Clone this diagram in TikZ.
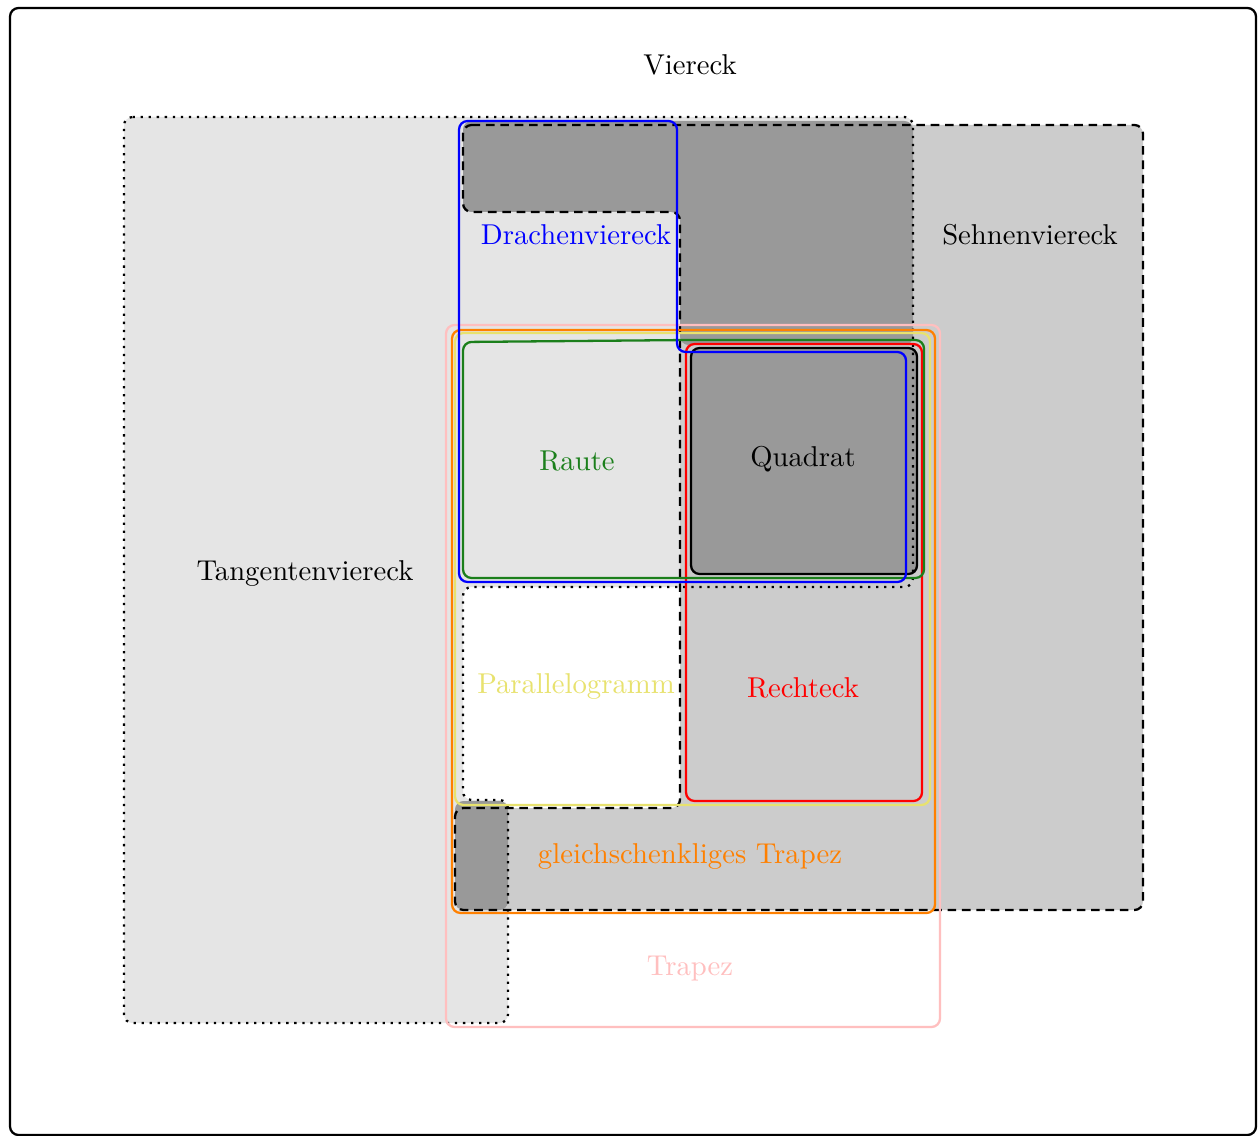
\documentclass[tikz,border=0pt]{standalone}
\usepackage{xcolor}
\usepackage{tikz}
\usetikzlibrary{
  arrows.meta,
  positioning,
  calc,
  backgrounds
}
\definecolor{qTangent}{HTML}{E5E5E5}
\definecolor{qSehne}{HTML}{CCCCCC}
\definecolor{qBoth}{HTML}{999999}
\definecolor{qPara}{HTML}{E8E26E}
\definecolor{qRaute}{HTML}{1B7F1B}
\definecolor{qPink}{HTML}{FFBFBF}
\definecolor{qOrange}{HTML}{FF8000}
\tikzset{
  outerframe/.style={draw, thick, rounded corners=3pt, fill=white},
  qclass/.style={draw, thick, rounded corners=3pt},
  tangent/.style={draw, thick, dotted, rounded corners=3pt},
  sehne/.style={draw, thick, dash pattern=on 3pt off 2pt, rounded corners=3pt},
  qfill/.style={rounded corners=3pt},
  qlabel/.style={inner sep=1pt, font=\normalsize}
}

\begin{document}
\begin{tikzpicture}[x=0.3485pt, y=-0.3485pt]
  \useasboundingbox (0,0) rectangle (1258,1136);
  \draw[outerframe] (10,8) rectangle (1256,1135);
  % areas
  \fill[qfill, qTangent] (124,117) -- (913,117) -- (913,587) -- (463,587) -- (463,800) -- (508,800) -- (508,1023) -- (124,1023) -- cycle;
  \fill[qfill, qSehne] (463,125) -- (1143,125) -- (1143,910) -- (455,910) -- (455,808) -- (680,808) -- (680,212) -- (463,212) -- cycle;
  \fill[qfill, qBoth] (463,121) -- (913,121) -- (913,345) -- (680,345) -- (680,212) -- (463,212) -- cycle;
  \fill[qfill, qBoth] (455,801) -- (508,801) -- (508,910) -- (455,910) -- cycle;
  \fill[qfill, qBoth] (691,348) rectangle (917,574);
  % borders of both areas
  \draw[tangent] (124,117) -- (913,117) -- (913,587) -- (463,587) -- (463,800) -- (508,800) -- (508,1023) -- (124,1023) -- cycle;
  \draw[sehne] (463,125) -- (1143,125) -- (1143,910) -- (455,910) -- (455,808) -- (680,808) -- (680,212) -- (463,212) -- cycle;
  % classes
  \draw[qclass, qPink] (446,325) rectangle (940,1027);
  \draw[qclass, qOrange] (452,330) rectangle (935,913);
  \draw[qclass, qPara] (455,333) rectangle (930,805);
  \draw[qclass, red] (686,344) rectangle (922,801);
  \draw[qclass, qRaute] (463,578) -- (463,342) -- (690,340) -- (924,340) -- (924,578) -- cycle;
  \draw[qclass] (691,348) rectangle (917,574);
  \draw[qclass, blue] (459,121) -- (677,121) -- (677,352) -- (906,352) -- (906,582) -- (459,582) -- cycle;
  % labels
  \node[qlabel] (viereck) at (690,65) {Viereck};
  \node[qlabel] (sehnen) at (1030,235) {Sehnenviereck};
  \node[qlabel, text=blue] (drachen) at (576,235) {Drachenviereck};
  \node[qlabel, text=qRaute] (raute) at (577,461) {Raute};
  \node[qlabel] (quadrat) at (803,459) {Quadrat};
  \node[qlabel] (tangenten) at (305,573) {Tangentenviereck};
  \node[qlabel, text=qPara] (parallel) at (576,686) {Parallelogramm};
  \node[qlabel, text=red] (rechteck) at (803,688) {Rechteck};
  \node[qlabel, text=qOrange] (gltrapez) at (690,856) {gleichschenkliges Trapez};
  \node[qlabel, text=qPink] (trapez) at (690,969) {Trapez};
\end{tikzpicture}
\end{document}
